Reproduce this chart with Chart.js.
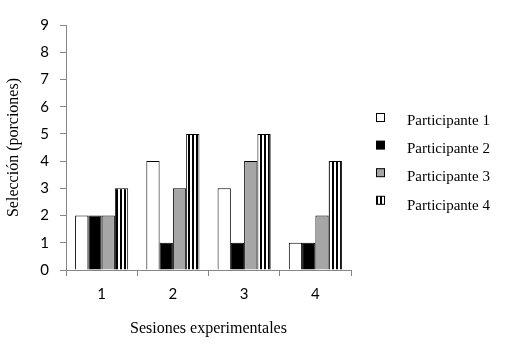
<!DOCTYPE html>
<html>
<head>
<meta charset="utf-8">
<script src="https://cdn.jsdelivr.net/npm/chart.js@4"></script>
<style>
html,body{margin:0;padding:0;background:#fff;}
#wrap{width:517px;height:347px;position:relative;}
</style>
</head>
<body>
<div id="wrap"><canvas id="c" width="517" height="347"></canvas></div>
<script>
const categories = ['1', '2', '3', '4'];
const seriesNames = ['Participante 1', 'Participante 2', 'Participante 3', 'Participante 4'];
const participante1 = [2, 4, 3, 1];
const participante2 = [2, 1, 1, 1];
const participante3 = [2, 3, 4, 2];
const participante4 = [3, 5, 5, 4];
const yTicks = [0, 1, 2, 3, 4, 5, 6, 7, 8, 9];

function stripePattern() {
  const pc = document.createElement('canvas');
  pc.width = 4; pc.height = 4;
  const g = pc.getContext('2d');
  g.fillStyle = '#ffffff'; g.fillRect(0, 0, 4, 4);
  g.fillStyle = '#000000'; g.fillRect(0, 0, 2, 4);
  return document.getElementById('c').getContext('2d').createPattern(pc, 'repeat');
}
const stripes = stripePattern();

const fills = ['#ffffff', '#000000', '#a6a6a6', stripes];
const values = [participante1, participante2, participante3, participante4];

const legendPlugin = {
  id: 'sideLegend',
  afterDraw(chart) {
    const ctx = chart.ctx;
    ctx.save();
    chart.data.datasets.forEach((ds, i) => {
      const by = 113 + i * 27.6;
      ctx.fillStyle = ds.backgroundColor;
      ctx.fillRect(376.5, by + 0.5, 8, 8);
      ctx.strokeStyle = '#000';
      ctx.lineWidth = 1;
      ctx.strokeRect(376.5, by + 0.5, 8, 8);
      ctx.fillStyle = '#000';
      ctx.font = '15px "Liberation Serif"';
      ctx.textBaseline = 'middle';
      ctx.textAlign = 'left';
      ctx.fillText(ds.label, 407, 121 + i * 28.2);
    });
    ctx.restore();
  }
};

new Chart(document.getElementById('c'), {
  type: 'bar',
  data: {
    labels: categories,
    datasets: seriesNames.map((name, i) => ({
      label: name,
      data: values[i],
      backgroundColor: fills[i],
      borderColor: '#000000',
      borderWidth: 1,
      borderSkipped: 'bottom',
      barPercentage: 1.0,
      categoryPercentage: 0.745
    }))
  },
  plugins: [legendPlugin],
  options: {
    responsive: false,
    animation: false,
    devicePixelRatio: 1,
    layout: { padding: { top: 25, right: 166, left: 0, bottom: 0 } },
    plugins: { legend: { display: false }, tooltip: { enabled: false } },
    scales: {
      x: {
        afterFit(s) { s.height = 77; },
        grid: { drawOnChartArea: false, offset: true, color: '#868686', tickLength: 6, tickWidth: 1 },
        border: { color: '#868686', width: 1 },
        ticks: { color: '#000', font: { family: 'Lato', size: 15 }, padding: 9 },
        title: { display: true, text: 'Sesiones experimentales', color: '#000',
                 font: { family: 'Liberation Serif', size: 16 }, padding: { top: 0, bottom: 9 } }
      },
      y: {
        min: 0, max: 9,
        afterFit(s) { s.width = 66; },
        afterBuildTicks(s) { s.ticks = yTicks.map(v => ({ value: v })); },
        grid: { drawOnChartArea: false, color: '#868686', tickLength: 6, tickWidth: 1 },
        border: { color: '#868686', width: 1 },
        ticks: { color: '#000', font: { family: 'Lato', size: 15 }, padding: 11 },
        title: { display: true, text: 'Selección (porciones)', color: '#000',
                 font: { family: 'Liberation Serif', size: 16 }, padding: { top: 4, bottom: 0 } }
      }
    }
  }
});
</script>
</body>
</html>
